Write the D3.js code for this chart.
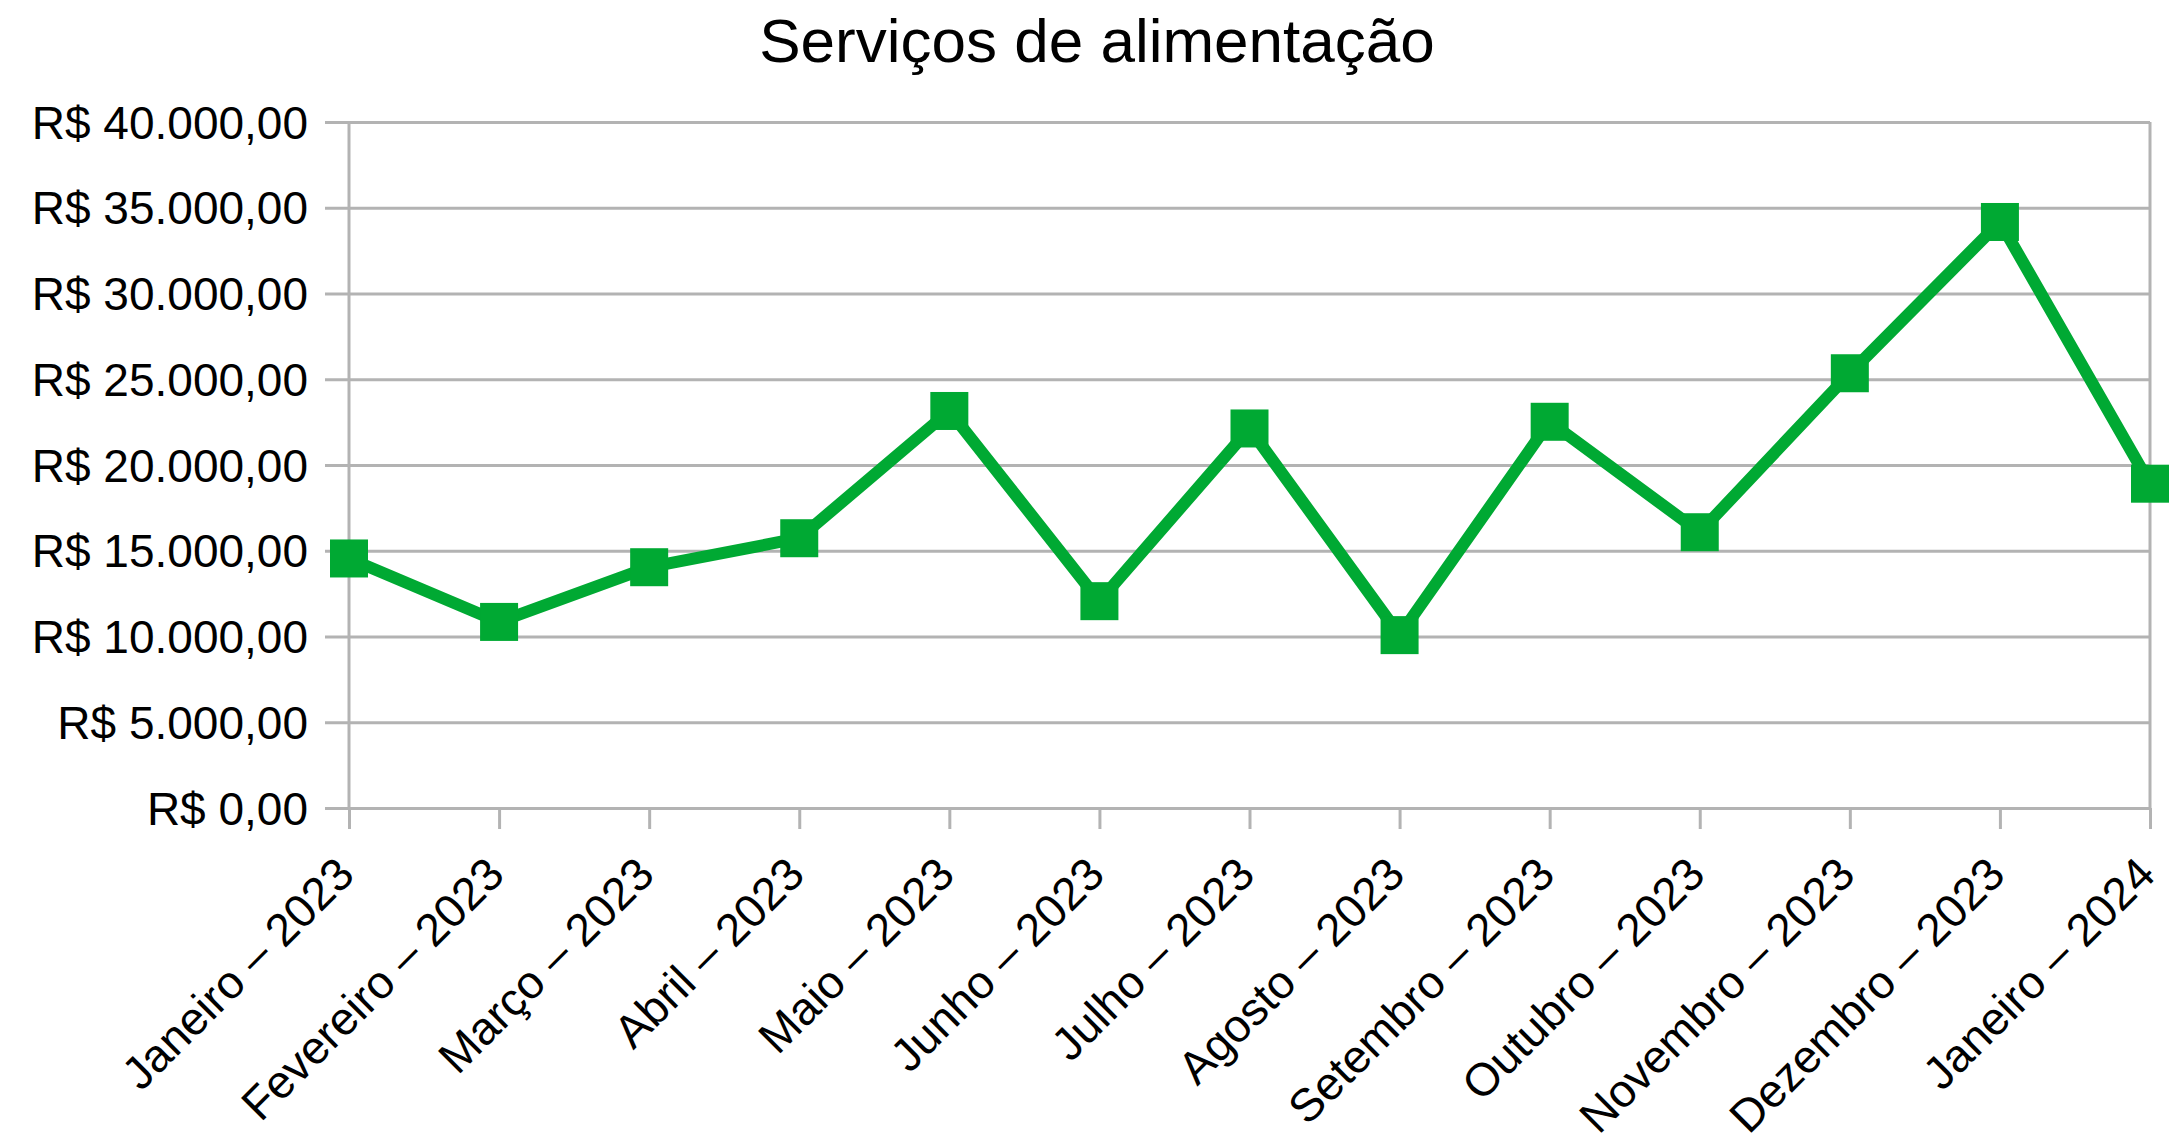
<!DOCTYPE html>
<html>
<head>
<meta charset="utf-8">
<script src="https://cdn.jsdelivr.net/npm/d3@7"></script>
<style>
  body { margin: 0; background: #fff; }
  text { font-family: "Liberation Sans", Arial, sans-serif; fill: #000; }
</style>
</head>
<body>
<div class="chart"></div>
<script>
var months = ["Janeiro – 2023", "Fevereiro – 2023", "Março – 2023", "Abril – 2023",
  "Maio – 2023", "Junho – 2023", "Julho – 2023", "Agosto – 2023", "Setembro – 2023",
  "Outubro – 2023", "Novembro – 2023", "Dezembro – 2023", "Janeiro – 2024"];
var valores = [14550, 10850, 14040, 15730, 23150, 12060, 22130, 10080, 22520, 16080, 25350, 34170, 18910];
var yTicks = [0, 5000, 10000, 15000, 20000, 25000, 30000, 35000, 40000];
var titulo = "Serviços de alimentação";

var svgWidth = 2174;
var svgHeight = 1142;
var margin = { top: 122, right: 24, bottom: 334, left: 349 };
var width = svgWidth - margin.left - margin.right;
var height = svgHeight - margin.top - margin.bottom;

var gridColor = "#b3b3b3";
var lineColor = "#00a933";

var svg = d3.select(".chart")
  .append("svg")
  .attr("width", svgWidth)
  .attr("height", svgHeight);

svg.append("text")
  .attr("x", 1097)
  .attr("y", 62)
  .attr("text-anchor", "middle")
  .style("font-size", "62px")
  .text(titulo);

var chartGroup = svg.append("g").attr("transform", `translate(${margin.left}, ${margin.top})`);

var x = d3.scalePoint().domain(months).range([0, width]).padding(0);
var y = d3.scaleLinear().domain([0, 40000]).range([height, 0]);

// reais no formato brasileiro
function brl(v) {
  var s = d3.format(",.2f")(v);
  s = s.replace(/,/g, "#").replace(".", ",").replace(/#/g, ".");
  return "R$ " + s;
}

// y axis with gridlines
var yAxis = d3.axisLeft(y).tickValues(yTicks).tickFormat(brl)
  .tickSize(-width).tickSizeOuter(0).tickPadding(0);
var yg = chartGroup.append("g").call(yAxis);
yg.select(".domain").remove();
yg.selectAll(".tick line")
  .attr("x1", -24)
  .attr("stroke", gridColor)
  .attr("stroke-width", 3);
yg.selectAll(".tick text")
  .attr("x", -41)
  .attr("dy", "0.35em")
  .attr("fill", "#000")
  .style("font-size", "46px")
  .style("font-family", "Liberation Sans, Arial, sans-serif");

// x axis
var xAxis = d3.axisBottom(x).tickSize(21).tickSizeOuter(0).tickFormat(d => d);
var xg = chartGroup.append("g").attr("transform", `translate(0, ${height})`).call(xAxis);
xg.select(".domain").remove();
xg.selectAll(".tick line").attr("stroke", gridColor).attr("stroke-width", 3);
xg.selectAll(".tick text")
  .attr("y", 0)
  .attr("dy", 0)
  .attr("text-anchor", "end")
  .attr("transform", "translate(7, 69) rotate(-45)")
  .attr("fill", "#000")
  .style("font-size", "46px")
  .style("font-family", "Liberation Sans, Arial, sans-serif");

// vertical axis lines at both ends
chartGroup.append("line")
  .attr("x1", 0).attr("x2", 0).attr("y1", 0).attr("y2", height)
  .attr("stroke", gridColor).attr("stroke-width", 3);
chartGroup.append("line")
  .attr("x1", width).attr("x2", width).attr("y1", 0).attr("y2", height)
  .attr("stroke", gridColor).attr("stroke-width", 3);

var line = d3.line()
  .x((d, i) => x(months[i]))
  .y(d => y(d));

chartGroup.append("path")
  .datum(valores)
  .attr("d", line)
  .attr("fill", "none")
  .attr("stroke", lineColor)
  .attr("stroke-width", 12)
  .attr("stroke-linejoin", "round");

var size = 38;
chartGroup.selectAll("rect.marker")
  .data(valores)
  .enter()
  .append("rect")
  .attr("class", "marker")
  .attr("x", (d, i) => x(months[i]) - size / 2)
  .attr("y", d => y(d) - size / 2)
  .attr("width", size)
  .attr("height", size)
  .attr("fill", lineColor);
</script>
</body>
</html>
